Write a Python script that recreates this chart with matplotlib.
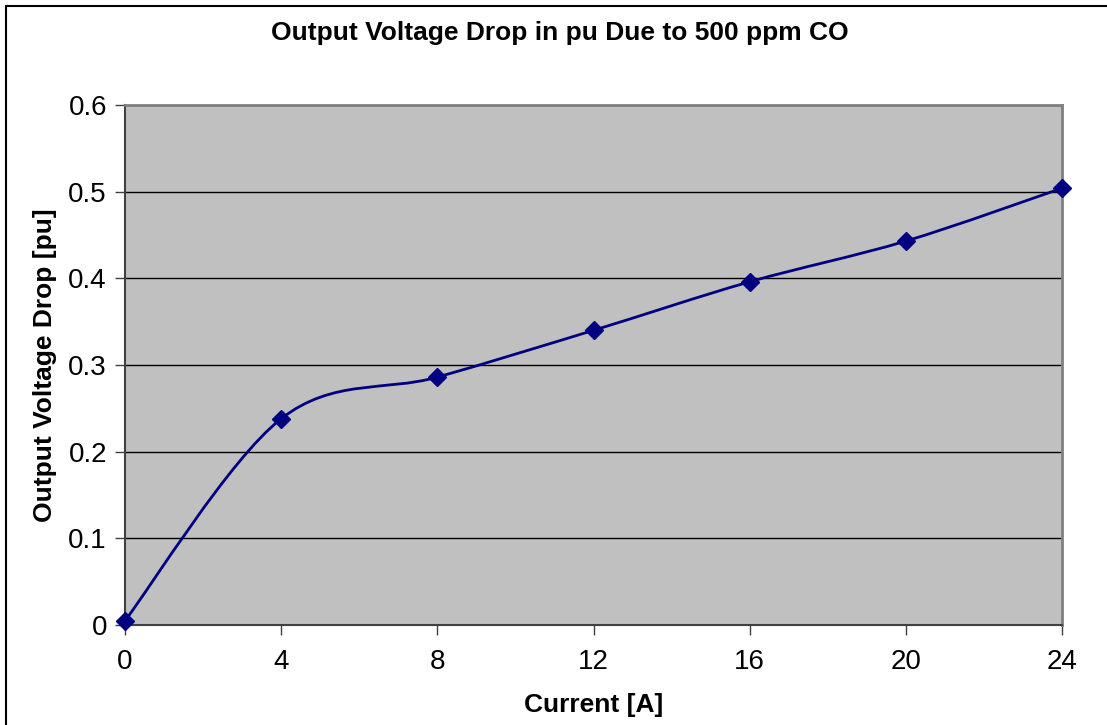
import matplotlib
matplotlib.use("Agg")
import matplotlib.pyplot as plt
from matplotlib.path import Path
from matplotlib.patches import PathPatch, Rectangle

plt.rcParams['font.family'] = ['Liberation Sans', 'DejaVu Sans']

current = [0, 4, 8, 12, 16, 20, 24]
voltage_drop = [0.005, 0.238, 0.286, 0.340, 0.396, 0.443, 0.504]
x_ticks = [0, 4, 8, 12, 16, 20, 24]
y_ticks = [0, 0.1, 0.2, 0.3, 0.4, 0.5, 0.6]


def smooth_path(xs, ys):
    # Catmull-Rom style bezier segments through every point
    pts = list(zip(xs, ys))
    n = len(pts)
    verts = [pts[0]]
    codes = [Path.MOVETO]
    for i in range(n - 1):
        p0 = pts[max(i - 1, 0)]
        p1 = pts[i]
        p2 = pts[i + 1]
        p3 = pts[min(i + 2, n - 1)]
        c1 = (p1[0] + (p2[0] - p0[0]) / 6, p1[1] + (p2[1] - p0[1]) / 6)
        c2 = (p2[0] - (p3[0] - p1[0]) / 6, p2[1] - (p3[1] - p1[1]) / 6)
        verts += [c1, c2, p2]
        codes += [Path.CURVE4] * 3
    return Path(verts, codes)


fig = plt.figure(figsize=(11.07, 7.25), dpi=100)
ax = fig.add_axes([125 / 1107, 100 / 725, 937 / 1107, 520 / 725])
ax.set_facecolor('#c0c0c0')

ax.add_patch(PathPatch(smooth_path(current, voltage_drop), fill=False,
                       edgecolor='#000080', lw=2, zorder=3))
ax.plot(current, voltage_drop, linestyle='none', marker='D', markersize=9,
        color='#000080', zorder=4, clip_on=False)

ax.set_xlim(0, 24)
ax.set_ylim(0, 0.6)
ax.set_xticks(x_ticks)
ax.set_xticklabels([str(t) for t in x_ticks])
ax.set_yticks(y_ticks)
ax.set_yticklabels(['0' if t == 0 else f'{t:.1f}' for t in y_ticks])
ax.tick_params(axis='both', direction='out', length=7, width=1,
               color='#404040', labelsize=20, pad=6)
ax.tick_params(axis='x', pad=10)
ax.grid(axis='y', color='black', lw=1)
ax.set_axisbelow(True)

for side in ['top', 'right']:
    ax.spines[side].set_color('#808080')
    ax.spines[side].set_linewidth(2)
for side in ['left', 'bottom']:
    ax.spines[side].set_color('#404040')
    ax.spines[side].set_linewidth(1.5)

fig.text(560 / 1107, 1 - 33 / 725, 'Output Voltage Drop in pu Due to 500 ppm CO',
         fontsize=19, fontweight='bold', ha='center', va='center')
ax.set_xlabel('Current [A]', fontsize=19, fontweight='bold', labelpad=13)
ax.set_ylabel('Output Voltage Drop [pu]', fontsize=19, fontweight='bold',
              labelpad=8)

# chart frame
fig.add_artist(Rectangle((6 / 1107, -0.1), 1.2, (725 - 6) / 725 + 0.1,
                         transform=fig.transFigure, fill=False,
                         edgecolor='black', lw=1.5))

fig.savefig('out.png', dpi=100)
